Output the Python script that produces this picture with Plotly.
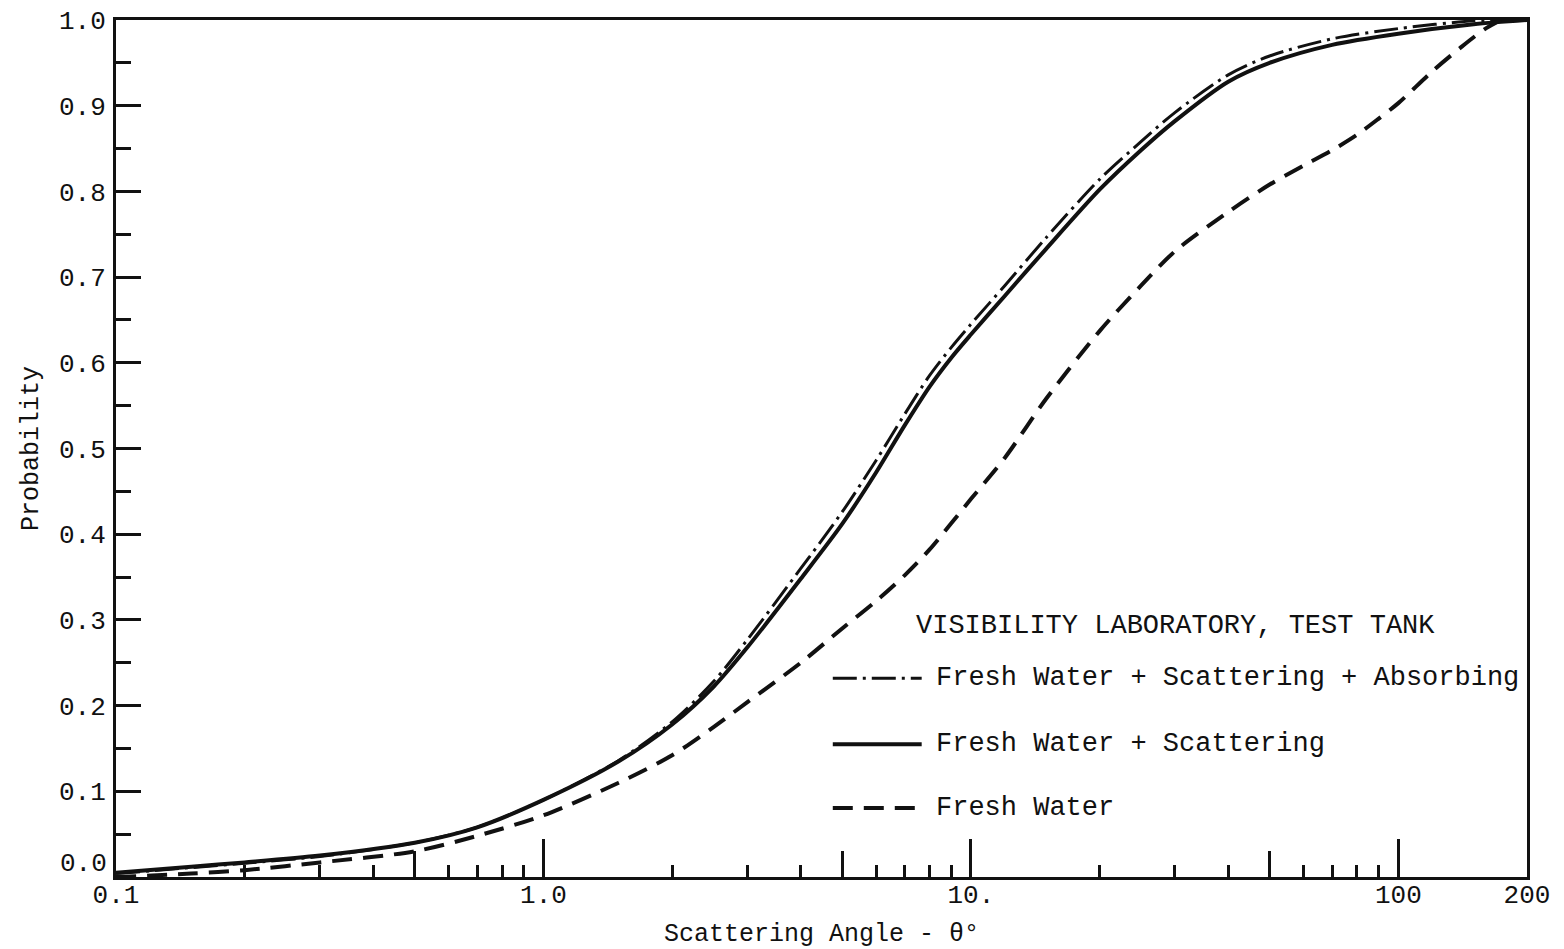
import plotly.graph_objects as go

# Scattering angle (degrees) at which each cumulative curve is sampled
angle_abs = [0.1, 0.15, 0.2, 0.3, 0.5, 0.7, 1.0, 1.5, 2.0, 2.5, 3.0, 4.0, 5.0, 6.0, 7.0, 8.0, 9.0,
             10, 12, 15, 20, 25, 30, 40, 50, 70, 100, 150, 200]
prob_abs = [0.004, 0.011, 0.016, 0.024, 0.040, 0.058, 0.090, 0.136, 0.181, 0.228, 0.277, 0.360,
            0.426, 0.486, 0.540, 0.585, 0.618, 0.645, 0.690, 0.746, 0.814, 0.858, 0.892, 0.936,
            0.958, 0.978, 0.990, 0.999, 1.0]

angle_scat = [0.1, 0.15, 0.2, 0.3, 0.5, 0.7, 1.0, 1.5, 2.0, 2.5, 3.0, 4.0, 5.0, 6.0, 7.0, 8.0, 9.0,
              10, 12, 15, 20, 25, 30, 40, 50, 70, 100, 150, 200]
prob_scat = [0.005, 0.012, 0.017, 0.025, 0.040, 0.058, 0.090, 0.135, 0.178, 0.222, 0.268, 0.348,
             0.412, 0.472, 0.527, 0.572, 0.606, 0.633, 0.678, 0.733, 0.802, 0.848, 0.882, 0.928,
             0.950, 0.971, 0.984, 0.995, 1.0]

angle_fresh = [0.1, 0.15, 0.2, 0.3, 0.5, 0.7, 1.0, 1.5, 2.0, 2.5, 3.0, 4.0, 5.0, 6.0, 7.0, 8.0,
               10, 12, 15, 20, 25, 30, 40, 50, 60, 70, 80, 90, 100, 120, 140, 160, 175, 200]
prob_fresh = [0.0, 0.004, 0.008, 0.017, 0.030, 0.048, 0.072, 0.110, 0.142, 0.175, 0.204, 0.250,
              0.290, 0.322, 0.352, 0.382, 0.441, 0.489, 0.558, 0.637, 0.690, 0.730, 0.776, 0.808,
              0.830, 0.848, 0.866, 0.885, 0.903, 0.940, 0.968, 0.990, 1.0, 1.0]

series_names = ["Fresh Water + Scattering + Absorbing", "Fresh Water + Scattering", "Fresh Water"]
legend_title = "VISIBILITY LABORATORY, TEST TANK"

x_major = [0.1, 1, 10, 100, 200]
x_major_text = ["0.1", "1.0", "10.", "100", "200"]
x_mid = [0.5, 5, 50]
x_minor = [0.2, 0.3, 0.4, 0.6, 0.7, 0.8, 0.9,
           2, 3, 4, 6, 7, 8, 9,
           20, 30, 40, 60, 70, 80, 90]
y_major = [round(0.1 * i, 1) for i in range(11)]
y_major_text = [f"{v:.1f}" for v in y_major]
y_minor = [round(0.05 + 0.1 * i, 2) for i in range(10)]

FONT = "Liberation Mono"
INK = "#111111"
DASHDOT = "24px,6px,3px,6px"
DASHED = "20px,11px"

fig = go.Figure()
fig.add_trace(go.Scatter(x=angle_abs, y=prob_abs, mode="lines", name=series_names[0],
                         line=dict(color=INK, width=3, dash=DASHDOT, shape="spline", smoothing=0.8),
                         showlegend=False))
fig.add_trace(go.Scatter(x=angle_scat, y=prob_scat, mode="lines", name=series_names[1],
                         line=dict(color=INK, width=4, shape="spline", smoothing=0.8),
                         showlegend=False))
fig.add_trace(go.Scatter(x=angle_fresh, y=prob_fresh, mode="lines", name=series_names[2],
                         line=dict(color=INK, width=4, dash=DASHED, shape="spline", smoothing=0.8),
                         showlegend=False))

# the bottom label of the probability axis sits a little above its tick, clear of "0.1"
y_axis_text = [""] + y_major_text[1:]

xr = [-1, 2.30103]
fig.update_layout(
    width=1564, height=949,
    margin=dict(l=116, r=37, t=20, b=72),
    paper_bgcolor="white", plot_bgcolor="white",
    font=dict(family=FONT, color=INK, size=26),
    xaxis=dict(
        type="log", range=xr, automargin=False,
        tickmode="array", tickvals=x_major, ticktext=x_major_text,
        ticks="inside", ticklen=38, tickwidth=2.5, tickcolor=INK,
        minor=dict(tickmode="array", tickvals=x_minor, ticks="inside", ticklen=12,
                   tickwidth=2.5, tickcolor=INK, showgrid=False),
        showline=True, linewidth=3, linecolor=INK, mirror=True,
        showgrid=False, zeroline=False,
        tickfont=dict(size=26, family=FONT),
        ticklabelstandoff=-8,
        title=dict(text="Scattering Angle - θ°", font=dict(size=25, family=FONT), standoff=22),
    ),
    xaxis2=dict(
        type="log", range=xr, overlaying="x", anchor="y", side="bottom", automargin=False,
        tickmode="array", tickvals=x_mid, ticks="inside", ticklen=26, tickwidth=2.5,
        tickcolor=INK, showticklabels=False, showline=False, showgrid=False, zeroline=False,
    ),
    yaxis=dict(
        range=[0, 1], automargin=False,
        tickmode="array", tickvals=y_major, ticktext=y_axis_text,
        ticks="inside", ticklen=25, tickwidth=3, tickcolor=INK,
        minor=dict(tickmode="array", tickvals=y_minor, ticks="inside", ticklen=15,
                   tickwidth=3, tickcolor=INK, showgrid=False),
        showline=True, linewidth=3, linecolor=INK, mirror=True,
        showgrid=False, zeroline=False,
        tickfont=dict(size=26, family=FONT),
        ticklabelstandoff=2,
        title=dict(text="Probability", font=dict(size=25, family=FONT), standoff=14),
    ),
)
fig.add_annotation(xref="paper", yref="y", x=0, y=y_major[0], text=y_major_text[0], showarrow=False,
                   xanchor="right", yanchor="middle", xshift=-7, yshift=13,
                   font=dict(size=26, family=FONT, color=INK))

# invisible trace so the secondary x axis is drawn
fig.add_trace(go.Scatter(x=[1], y=[None], xaxis="x2", showlegend=False, hoverinfo="skip"))

# hand-made legend block inside the plot
key_x0, key_x1, text_x = 0.508, 0.571, 0.5795
rows_y = [0.232, 0.155, 0.0805]
styles = [dict(width=3, dash=DASHDOT), dict(width=4), dict(width=4, dash=DASHED)]
for name, yy, st in zip(series_names, rows_y, styles):
    fig.add_shape(type="line", xref="paper", yref="paper", x0=key_x0, x1=key_x1, y0=yy, y1=yy,
                  line=dict(color=INK, **st))
    fig.add_annotation(xref="paper", yref="paper", x=text_x, y=yy, text=name, showarrow=False,
                       xanchor="left", yanchor="middle", font=dict(size=27, family=FONT, color=INK))
fig.add_annotation(xref="paper", yref="paper", x=0.5657, y=0.293, text=legend_title, showarrow=False,
                   xanchor="left", yanchor="middle", font=dict(size=27, family=FONT, color=INK))

fig.write_html("out.html")
